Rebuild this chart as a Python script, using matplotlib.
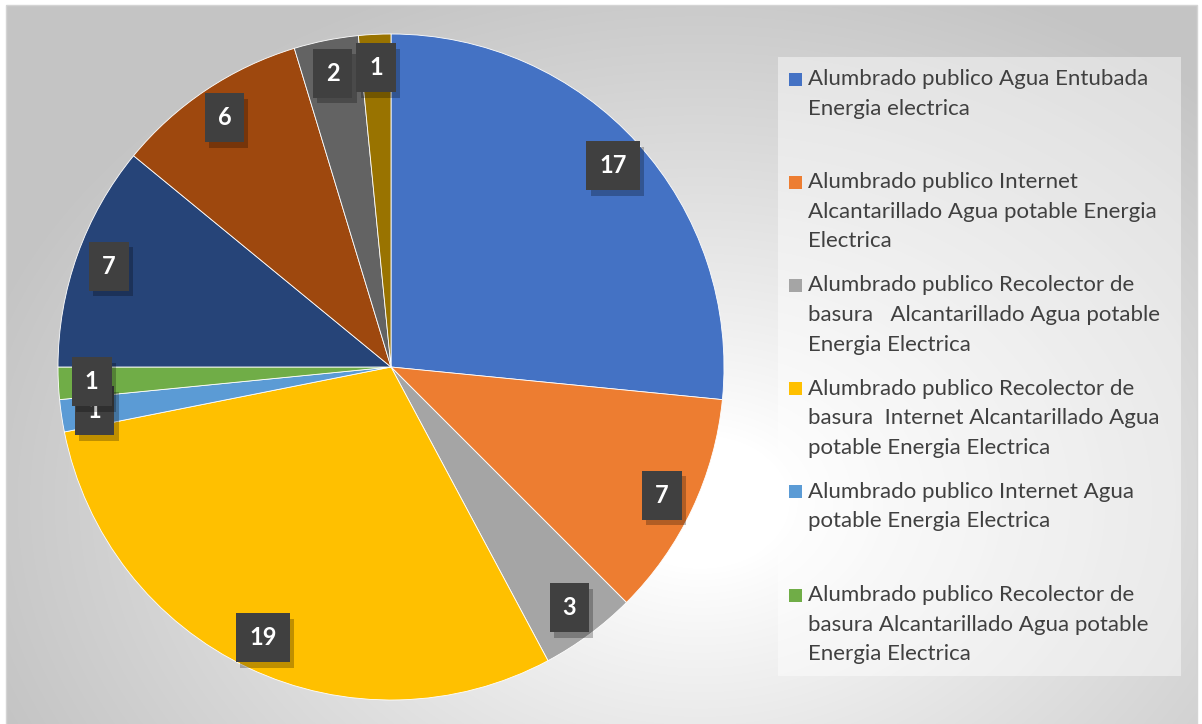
import numpy as np
import matplotlib
matplotlib.use("Agg")
import matplotlib.pyplot as plt
from matplotlib.patches import Rectangle
import matplotlib.patheffects as pe

# slice values, clockwise from 12 o'clock
values = [17, 7, 3, 19, 1, 1, 7, 6, 2, 1]
colors = ["#4472C4", "#ED7D31", "#A5A5A5", "#FFC000", "#5B9BD5",
          "#70AD47", "#264478", "#9E480E", "#636363", "#997300"]
legend_labels = [
    "Alumbrado publico Agua Entubada\nEnergia electrica",
    "Alumbrado publico Internet\nAlcantarillado Agua potable Energia\nElectrica",
    "Alumbrado publico Recolector de\nbasura   Alcantarillado Agua potable\nEnergia Electrica",
    "Alumbrado publico Recolector de\nbasura  Internet Alcantarillado Agua\npotable Energia Electrica",
    "Alumbrado publico Internet Agua\npotable Energia Electrica",
    "Alumbrado publico Recolector de\nbasura Alcantarillado Agua potable\nEnergia Electrica",
]

W, H = 1202, 724
fig = plt.figure(figsize=(W / 100, H / 100), dpi=100)
fig.patch.set_facecolor("white")

# background with radial gradient
bg = fig.add_axes([0, 0, 1, 1])
bg.set_xlim(0, W)
bg.set_ylim(H, 0)
bg.axis("off")
yy, xx = np.mgrid[0:H, 0:W]
d = np.sqrt(((xx - 700) / 760.0) ** 2 + ((yy - 500) / 560.0) ** 2)
t = np.clip((d - 0.12) / 0.88, 0, 1) ** 0.9
g = 1.0 - t * (1.0 - 0.77)
img = np.dstack([g, g, g])
bg.imshow(img, extent=(6, 1197, 724, 5), aspect="auto", zorder=0)
bg.add_patch(Rectangle((6, 5), 1191, 725, fill=False, ec="#d4d4d4", lw=1, zorder=1))

# legend panel
bg.add_patch(Rectangle((778, 57), 403, 619, fc="white", alpha=0.45, ec="none", zorder=2))

# pie
cx, cy, r = 391, 367, 333
ax = fig.add_axes([(cx - r) / W, (H - cy - r) / H, 2 * r / W, 2 * r / H])
wedges, _ = ax.pie(values, colors=colors, startangle=90, counterclock=False,
                   wedgeprops=dict(edgecolor="white", linewidth=0.6))
ax.set_xlim(-1, 1)
ax.set_ylim(-1, 1)
ax.set_aspect("equal")

total = float(sum(values))
cum = 0.0
for v in values:
    mid = np.deg2rad(90 - (cum + v / 2.0) / total * 360.0)
    cum += v
    x, y = 0.9 * np.cos(mid), 0.9 * np.sin(mid)
    txt = ax.text(x, y, str(v), ha="center", va="center", fontsize=17,
                  fontweight="bold", family="Lato", color="white",
                  bbox=dict(boxstyle="square,pad=0.55", fc="#404040", ec="none"))
    txt.get_bbox_patch().set_path_effects(
        [pe.SimplePatchShadow(offset=(3, -4), shadow_rgbFace="black", alpha=0.25), pe.Normal()])

# legend entries
y0, step = 79, 103.2
for i, lab in enumerate(legend_labels):
    yc = y0 + i * step
    bg.add_patch(Rectangle((789, yc - 6.5), 13, 13, fc=colors[i], ec="none", zorder=3))
    bg.text(808, yc - 10, lab, ha="left", va="top", fontsize=16, family="Lato",
            color="#404040", linespacing=1.6, zorder=3)

fig.savefig("out.png", dpi=100)
